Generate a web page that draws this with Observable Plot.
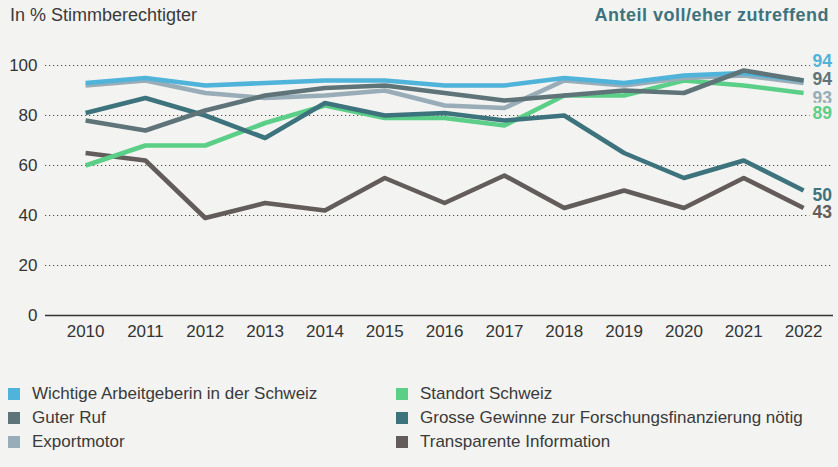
<!DOCTYPE html>
<html>
<head>
<meta charset="utf-8">
<script src="https://cdn.jsdelivr.net/npm/d3@7"></script>
<script src="https://cdn.jsdelivr.net/npm/@observablehq/plot@0.6"></script>
<style>
  html, body { margin: 0; padding: 0; background: #f3f3f1; }
  body { width: 838px; height: 467px; overflow: hidden; font-family: "Liberation Sans", Arial, sans-serif; color: #3a3a3a; }
  #wrap { position: relative; width: 838px; height: 467px; }
  #title { position: absolute; left: 10px; top: 5px; font-size: 18px; color: #3a3a3a; }
  #subtitle { position: absolute; right: 9px; top: 5px; font-size: 18px; letter-spacing: 0.5px; font-weight: bold; color: #3d737c; }
  #chart { position: absolute; left: 0; top: 40px; }
  #legend { position: absolute; left: 0; top: 382px; width: 838px; }
  .item { position: absolute; height: 24px; display: flex; align-items: center; font-size: 17px; color: #3a3a3a; white-space: nowrap; }
  .sw { width: 12px; height: 12px; margin-right: 12px; flex: none; }
</style>
</head>
<body>
<div id="wrap">
  <div id="title">In % Stimmberechtigter</div>
  <div id="subtitle">Anteil voll/eher zutreffend</div>
  <div id="chart"></div>
  <div id="legend"></div>
</div>
<script>
const years = [2010, 2011, 2012, 2013, 2014, 2015, 2016, 2017, 2018, 2019, 2020, 2021, 2022];
const yTicks = [0, 20, 40, 60, 80, 100];

const seriesNames = [
  "Wichtige Arbeitgeberin in der Schweiz",
  "Guter Ruf",
  "Exportmotor",
  "Standort Schweiz",
  "Grosse Gewinne zur Forschungsfinanzierung nötig",
  "Transparente Information"
];
const wichtige     = [93, 95, 92, 93, 94, 94, 92, 92, 95, 93, 96, 97, 94];
const guterRuf     = [78, 74, 82, 88, 91, 92, 89, 86, 88, 90, 89, 98, 94];
const exportmotor  = [92, 94, 89, 87, 88, 90, 84, 83, 94, 92, 95, 96, 93];
const standort     = [60, 68, 68, 77, 84, 79, 79, 76, 88, 88, 94, 92, 89];
const gewinne      = [81, 87, 80, 71, 85, 80, 81, 78, 80, 65, 55, 62, 50];
const transparent  = [65, 62, 39, 45, 42, 55, 45, 56, 43, 50, 43, 55, 43];

const seriesValues = [wichtige, guterRuf, exportmotor, standort, gewinne, transparent];
const colors = ["#4fb3da", "#5e7479", "#98adb7", "#5bcf87", "#3c737c", "#625c5a"];
// drawing order (bottom to top)
const drawOrder = [5, 3, 4, 2, 0, 1];
// vertical offsets of the end labels (px)
const labelDy = [-19, -1, 15, 20, 5, 4];

const rows = [];
seriesNames.forEach((name, i) => {
  years.forEach((yr, j) => rows.push({series: name, year: yr, value: seriesValues[i][j]}));
});

const font = '"Liberation Sans", Arial, sans-serif';
const bg = "#f3f3f1";

const marks = [
  Plot.ruleY(yTicks.filter(d => d > 0), {stroke: "#4a4a4a", strokeWidth: 1.1, strokeDasharray: "1.2 2.8"}),
  Plot.ruleY([0], {stroke: "#333", strokeWidth: 1.3}),
  Plot.axisX({ticks: years, tickFormat: d => String(d), tickSize: 0, tickPadding: 9, fontSize: 17, fill: "#333", fontFamily: font, label: null}),
  Plot.axisY({ticks: yTicks, tickSize: 0, tickPadding: 8, fontSize: 17, fill: "#333", fontFamily: font, label: null})
];
drawOrder.forEach(i => {
  marks.push(Plot.line(rows.filter(r => r.series === seriesNames[i]), {
    x: "year", y: "value", stroke: colors[i], strokeWidth: 4.6, strokeLinejoin: "round", strokeLinecap: "butt"
  }));
});
seriesNames.forEach((name, i) => {
  marks.push(Plot.text(rows.filter(r => r.series === name && r.year === years[years.length - 1]), {
    x: "year", y: "value", text: d => String(d.value), dx: 9, dy: labelDy[i], textAnchor: "start",
    fill: colors[i], fontWeight: "bold", fontSize: 17.5, fontFamily: font, stroke: bg, strokeWidth: 7, paintOrder: "stroke"
  }));
});

const chart = Plot.plot({
  width: 838,
  height: 310,
  marginLeft: 45,
  marginRight: 5,
  marginTop: 25,
  marginBottom: 35,
  style: {background: "transparent", fontFamily: font, overflow: "visible"},
  x: {domain: [2009.33, 2022.5], axis: null, label: null},
  y: {domain: [0, 100], axis: null, label: null},
  marks
});
document.getElementById("chart").appendChild(chart);

// legend
const legend = document.getElementById("legend");
const legendOrder = [0, 1, 2, 3, 4, 5];
legendOrder.forEach((i, k) => {
  const col = Math.floor(k / 3), row = k % 3;
  const div = document.createElement("div");
  div.className = "item";
  div.style.left = (col === 0 ? 8 : 396) + "px";
  div.style.top = (row * 24) + "px";
  const sw = document.createElement("span");
  sw.className = "sw";
  sw.style.background = colors[i];
  div.appendChild(sw);
  div.appendChild(document.createTextNode(seriesNames[i]));
  legend.appendChild(div);
});
</script>
</body>
</html>
